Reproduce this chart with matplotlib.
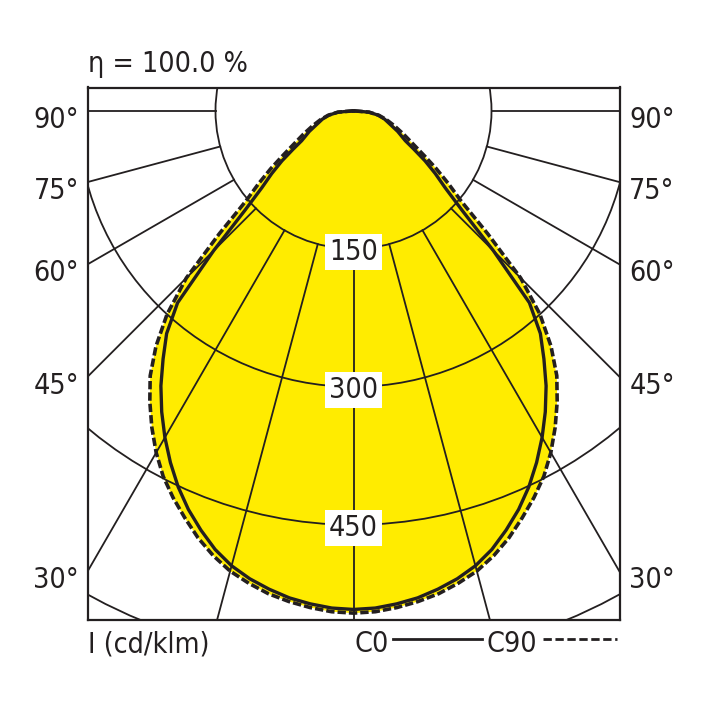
import numpy as np
import matplotlib.pyplot as plt
from matplotlib import font_manager as fm
from matplotlib.patches import Circle
from matplotlib.lines import Line2D

# pick a narrow sans if one is installed
names = {(f.name, f.stretch) for f in fm.fontManager.ttflist}
if any(n == 'DejaVu Sans' and s == 'condensed' for n, s in names):
    plt.rcParams['font.family'] = ['DejaVu Sans']
    plt.rcParams['font.stretch'] = 'condensed'
    font_used = 'dejavu condensed'
else:
    plt.rcParams['font.family'] = ['Liberation Sans', 'DejaVu Sans']
    font_used = 'liberation'
plt.rcParams['lines.scale_dashes'] = False

# luminous intensity (cd/klm) against gamma angle from nadir
gamma = [0, 2.5, 5, 7.5, 10, 12.5, 15, 17.5, 20, 22.5, 25, 27.5, 30, 32.5,
         35, 37.5, 40, 42.5, 45, 47.5, 50, 52.5, 55, 57.5, 60, 65, 70, 75,
         80, 85, 90]
c0 = [542, 541, 538, 534, 528, 521, 512, 500, 485, 469, 451, 431, 410, 388,
      365, 340, 316, 283, 215, 160, 130, 112, 95, 78, 65, 53, 42, 35,
      27, 17, 0]
c90 = [546, 545, 542, 538, 533, 526, 518, 507, 494, 479, 464, 448, 429, 408,
       386, 363, 334, 300, 257, 198, 153, 130, 110, 92, 78, 60, 47, 37,
       28, 17, 0]

rings = [150, 300, 450, 600]
ring_labels = ['150', '300', '450']
spokes = [0, 15, 30, 45, 60, 75, 90]
side_angles = [90, 75, 60, 45, 30]
side_labels = ['90°', '75°', '60°', '45°', '30°']

eta_text = 'η = 100.0 %'
unit_text = 'I (cd/klm)'
legend_names = ['C0', 'C90']

ink = '#231f20'
yellow = '#ffec00'
fs = 20.5

# layout in pixels of a 708 x 708 figure
W = 708
k = 0.92            # px per cd
cx, cy = 353.5, 110.8
left, right, top, bottom = 88, 619.5, 87.5, 619.5

fig = plt.figure(figsize=(7.08, 7.08), dpi=100)
ax = fig.add_axes([left / W, (W - bottom) / W, (right - left) / W, (bottom - top) / W])
x0, x1 = (left - cx) / k, (right - cx) / k
ax.set_xlim(x0, x1)
ax.set_ylim(-(bottom - cy) / k, (cy - top) / k)
ax.set_xticks([])
ax.set_yticks([])
for s in ax.spines.values():
    s.set_linewidth(1.6)
    s.set_color(ink)


def outline(vals):
    g = np.radians(gamma)
    r = np.array(vals, dtype=float)
    xs, ys = r * np.sin(g), -r * np.cos(g)
    x = np.concatenate([-xs[::-1], xs[1:]])
    y = np.concatenate([ys[::-1], ys[1:]])
    return x, y


xa, ya = outline(c0)
xb, yb = outline(c90)
ax.fill(xb, yb, color=yellow, lw=0, zorder=1)
ax.fill(xa, ya, color=yellow, lw=0, zorder=1)

# grid
for r in rings:
    ax.add_patch(Circle((0, 0), r, fill=False, ec=ink, lw=1.3, zorder=2))
for a in spokes:
    t = np.radians(a)
    for sgn in ([1] if a == 0 else [-1, 1]):
        ax.plot([sgn * rings[0] * np.sin(t), sgn * 900 * np.sin(t)],
                [-rings[0] * np.cos(t), -900 * np.cos(t)],
                color=ink, lw=1.3, zorder=2)

for r, lab in zip(rings, ring_labels):
    ax.text(0, -r, lab, ha='center', va='center_baseline', fontsize=fs, color=ink,
            zorder=5, bbox=dict(boxstyle='square,pad=0.15', fc='white', ec='none'))

ax.plot(xa, ya, color=ink, lw=2.4, zorder=4, solid_joinstyle='round')
ax.plot(xb, yb, color=ink, lw=2.6, ls=(0, (6, 2.2)), zorder=4)

# angle labels on both sides
for a, lab in zip(side_angles, side_labels):
    ye = 0 if a == 90 else x0 / np.tan(np.radians(a))
    ax.annotate(lab, xy=(x0, ye), xytext=(-6.5, -12.5), textcoords='offset points',
                ha='right', va='baseline', fontsize=fs, color=ink)
    ax.annotate(lab, xy=(x1, ye), xytext=(7, -12.5), textcoords='offset points',
                ha='left', va='baseline', fontsize=fs, color=ink)

fig.text(88.5 / W, 1 - 71.7 / W, eta_text, ha='left', va='baseline', fontsize=fs, color=ink)
fig.text(88.5 / W, 1 - 652.5 / W, unit_text, ha='left', va='baseline', fontsize=fs, color=ink)

# legend
fig.text(355 / W, 1 - 652.5 / W, legend_names[0], ha='left', va='baseline', fontsize=fs, color=ink)
fig.text(486.5 / W, 1 - 652.5 / W, legend_names[1], ha='left', va='baseline', fontsize=fs, color=ink)
ly = 1 - 639.3 / W
fig.add_artist(Line2D([393 / W, 482 / W], [ly, ly], color=ink, lw=2.0))
fig.add_artist(Line2D([543 / W, 617 / W], [ly, ly], color=ink, lw=2.0, ls=(0, (6, 2.6))))

fig.savefig('out.png', dpi=100, facecolor='white')
